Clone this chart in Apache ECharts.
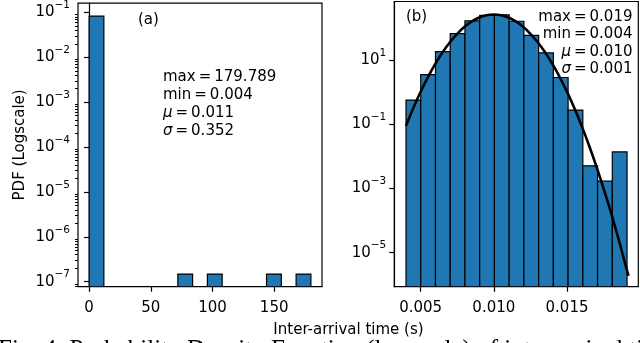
<!DOCTYPE html>
<html>
<head>
<meta charset="utf-8">
<script src="https://cdn.jsdelivr.net/npm/echarts@6/dist/echarts.min.js"></script>
<style>
  html, body { margin: 0; padding: 0; background: #fff; }
  #chart { width: 640px; height: 343px; }
</style>
</head>
<body>
<div id="chart"></div>
<script>
// (a) all inter-arrival times: 15 bins between min and max
const binMinA = 0.004
const binWidthA = 11.985
const pdfA = [0.0834, 0, 0, 0, 0, 0, 1.48e-7, 0, 1.48e-7, 0, 0, 0, 1.48e-7, 0, 1.48e-7]
const statsA = ['max', '179.789', 'min', '0.004', 'μ', '0.011', 'σ', '0.352']

// (b) zoom on the bulk: 15 bins
const binMinB = 0.004
const binWidthB = 0.0010067
const pdfB = [0.575, 3.55, 18.6, 68, 170, 250, 262, 165, 60, 17, 2.9, 0.28, 0.0051, 0.0017, 0.0139]
const statsB = ['max', '0.019', 'min', '0.004', 'μ', '0.010', 'σ', '0.001']

// fitted normal curve
const curveX = [0.0040, 0.0045, 0.0050, 0.0055, 0.0060, 0.0065, 0.0070, 0.0075, 0.0080, 0.0085,
  0.0090, 0.0095, 0.0100, 0.0105, 0.0110, 0.0115, 0.0120, 0.0125, 0.0130, 0.0135, 0.0140,
  0.0145, 0.0150, 0.0155, 0.0160, 0.0165, 0.0170, 0.0175, 0.0180, 0.0185, 0.0190, 0.0192]
const curveY = [0.090, 0.325, 1.04, 3.0, 7.7, 17.7, 36.5, 67, 111, 163,
  216, 255, 269, 255, 216, 163, 111, 67, 36.5, 17.7, 7.7,
  3.0, 1.04, 0.325, 0.090, 0.0225, 0.0050, 0.0010, 1.8e-4, 2.9e-5, 4.1e-6, 1.9e-6]

// ticks
const xTicksA = [0, 50, 100, 150]
const xTicksB = [0.005, 0.010, 0.015]
const yTicksA = [1e-7, 1e-6, 1e-5, 1e-4, 1e-3, 1e-2, 1e-1]
const yTicksB = [1e-5, 1e-3, 1e-1, 1e1]

const Y_MIN_A = 7.74e-8, Y_MAX_A = 0.1626
const Y_MIN_B = 8.7e-7, Y_MAX_B = 681

const FONT = 'DejaVu Sans'
const BLUE = '#1f77b4'

const chart = echarts.init(document.getElementById('chart'))

const minorTicksA = [8e-8, 9e-8]
yTicksA.forEach(d => {
  for (let k = 2; k <= 9; k++) minorTicksA.push(d * k)
})

const histData = (min, w, vals) =>
  vals.map((v, i) => [min + i * w, min + (i + 1) * w, v]).filter(d => d[2] > 0)

const histRender = yMin => (params, api) => {
  const p0 = api.coord([api.value(0), api.value(2)])
  const p1 = api.coord([api.value(1), yMin])
  return {
    type: 'rect',
    shape: { x: p0[0], y: p0[1], width: p1[0] - p0[0], height: p1[1] - p0[1] },
    style: { fill: BLUE, stroke: '#000', lineWidth: 1.2 }
  }
}

const supLabel = v => {
  const e = Math.round(Math.log10(v))
  return '{b|10}{s|' + (e < 0 ? '\u2212' + (-e) : e) + '}'
}

const axisLine = { lineStyle: { color: '#000', width: 1.2 } }
const tickStyle = { color: '#000', width: 1.2 }
const richSup = {
  b: { fontSize: 15, lineHeight: 15, fontFamily: FONT, color: '#000', verticalAlign: 'bottom' },
  s: { fontSize: 10.5, lineHeight: 10.5, fontFamily: FONT, color: '#000', verticalAlign: 'bottom', padding: [0, 0, 9, 0] }
}

const logY = (grid, min, max, ticks) => ({
  gridIndex: grid, type: 'log', logBase: 10, min: min, max: max, position: 'left',
  axisLine: axisLine,
  axisTick: { customValues: ticks, length: 5, lineStyle: tickStyle },
  axisLabel: { customValues: ticks, formatter: supLabel, rich: richSup, margin: 8 },
  splitLine: { show: false }
})

const valX = (grid, min, max, ticks, fmt) => ({
  gridIndex: grid, type: 'value', min: min, max: max,
  axisLine: axisLine,
  axisTick: { customValues: ticks, length: 5, lineStyle: tickStyle },
  axisLabel: { customValues: ticks, formatter: fmt, fontSize: 15, fontFamily: FONT, color: '#000', margin: 14 },
  splitLine: { show: false }
})

const statText = (s, x, y, align, lh) => {
  const rows = []
  for (let i = 0; i < s.length; i += 2) {
    const name = (s[i] === 'μ' || s[i] === 'σ') ? '{i|' + s[i] + '}' : s[i]
    rows.push(name + '\u2009=\u2009' + s[i + 1])
  }
  return {
    type: 'text', x: x, y: y,
    style: {
      text: rows.join('\n'), fontSize: 15, fontFamily: FONT, fill: '#000',
      lineHeight: lh, align: align, verticalAlign: 'top',
      rich: { i: { fontSize: 15, fontFamily: FONT, fontStyle: 'italic', fill: '#000' } }
    }
  }
}

const yA = logY(0, Y_MIN_A, Y_MAX_A, yTicksA)
Object.assign(yA, {
  name: 'PDF (Logscale)', nameLocation: 'middle', nameGap: 50,
  nameTextStyle: { fontSize: 15, fontFamily: FONT, color: '#000' }
})

const option = {
  animation: false,
  grid: [
    { left: 78, top: 1.5, width: 244, height: 285.2, show: true, borderColor: '#000', borderWidth: 1.2 },
    { left: 394.3, top: 1.5, width: 244, height: 285.2, show: true, borderColor: '#000', borderWidth: 1.2 }
  ],
  xAxis: [
    valX(0, -8.985, 188.78, xTicksA, v => String(v)),
    valX(1, 0.0032, 0.01987, xTicksB, v => v.toFixed(3))
  ],
  yAxis: [
    yA,
    {
      gridIndex: 0, type: 'log', logBase: 10, min: Y_MIN_A, max: Y_MAX_A, position: 'left',
      axisLine: { show: false },
      axisTick: { customValues: minorTicksA, length: 3, lineStyle: { color: '#000', width: 1 } },
      axisLabel: { show: false }, splitLine: { show: false }
    },
    logY(1, Y_MIN_B, Y_MAX_B, yTicksB)
  ],
  series: [
    {
      type: 'custom', xAxisIndex: 0, yAxisIndex: 0, clip: true,
      renderItem: histRender(Y_MIN_A), encode: { x: [0, 1], y: 2 },
      data: histData(binMinA, binWidthA, pdfA)
    },
    {
      type: 'custom', xAxisIndex: 1, yAxisIndex: 2, clip: true,
      renderItem: histRender(Y_MIN_B), encode: { x: [0, 1], y: 2 },
      data: histData(binMinB, binWidthB, pdfB)
    },
    {
      type: 'line', xAxisIndex: 1, yAxisIndex: 2, clip: true, z: 5,
      showSymbol: false, smooth: 0.3,
      lineStyle: { color: '#000', width: 2.6 },
      data: curveX.map((x, i) => [x, curveY[i]])
    }
  ],
  graphic: [
    { type: 'text', x: 138, y: 13, style: { text: '(a)', fontSize: 15, fontFamily: FONT, fill: '#000' } },
    statText(statsA, 163, 68.5, 'left', 17.8),
    { type: 'text', x: 406, y: 10, style: { text: '(b)', fontSize: 15, fontFamily: FONT, fill: '#000' } },
    statText(statsB, 632.5, 8.5, 'right', 17.4),
    {
      type: 'text', x: 348.5, y: 330,
      style: { text: 'Inter-arrival time (s)', fontSize: 15, fontFamily: FONT, fill: '#000', align: 'center', verticalAlign: 'middle' }
    },
    {
      type: 'text', x: -2, y: 337.5,
      style: { text: 'Fig. 4: Probability Density Function (log scale) of inter-arrival times', fontSize: 25, fontFamily: 'Liberation Serif', fill: '#000', verticalAlign: 'top' }
    }
  ]
}

chart.setOption(option)
</script>
</body>
</html>
